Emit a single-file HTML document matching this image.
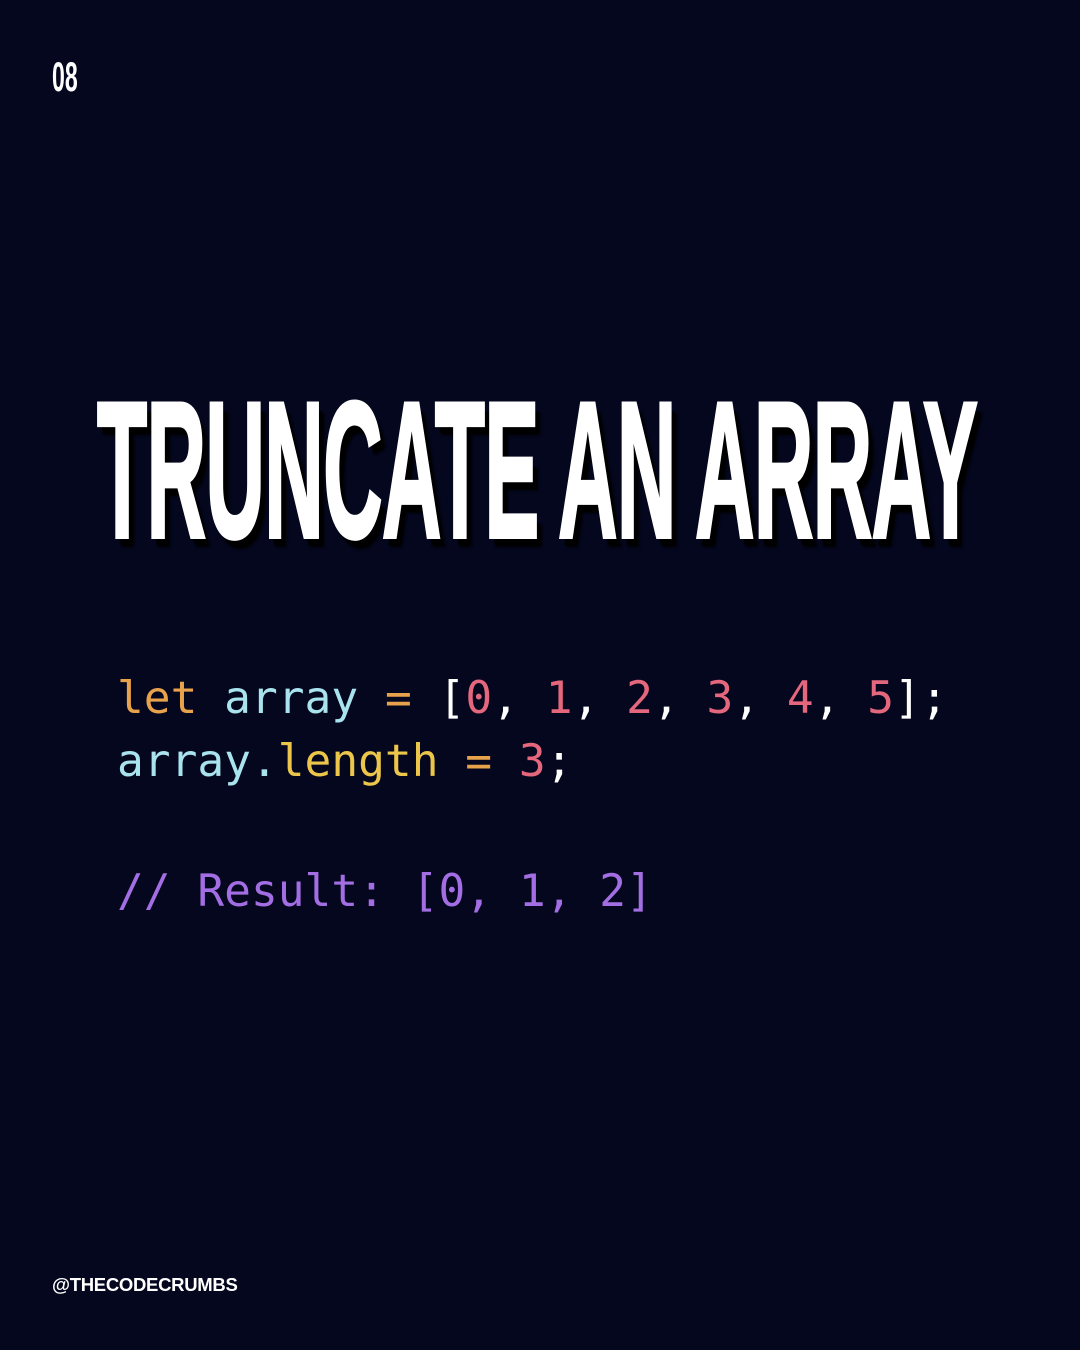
<!DOCTYPE html>
<html><head><style>
html,body{margin:0;padding:0}
body{width:1080px;height:1350px;background:#04071d;position:relative;overflow:hidden;font-family:"Liberation Sans",sans-serif}
.num{position:absolute;left:52px;top:56px;font-weight:bold;font-size:42px;color:#fff;transform:scaleX(0.55);transform-origin:left top;line-height:1}
.title{position:absolute;left:97px;top:374px;font-weight:bold;font-size:194px;color:#fff;white-space:nowrap;line-height:1;transform:scaleX(0.423);transform-origin:left top;text-shadow:10px 8px 0 #000,14px 10px 4px #000;letter-spacing:-1px;-webkit-text-stroke:4px #fff}
.code{position:absolute;left:117px;font-family:"DejaVu Sans Mono","Liberation Mono",monospace;font-size:44.5px;white-space:pre;line-height:1}
.k{color:#e8a24c}.v{color:#a9e4ee}.w{color:#ffffff}.n{color:#e5677e}.y{color:#ecc64a}.c{color:#a36ee3}.o{color:#e8a24c}
.handle{position:absolute;left:52px;top:1274px;font-weight:bold;font-size:18.5px;color:#fff;letter-spacing:-0.3px}
</style></head><body>
<div class="num">08</div>
<div class="title">TRUNCATE AN ARRAY</div>
<div class="code" style="top:677px"><span class="k">let</span> <span class="v">array</span> <span class="o">=</span> <span class="w">[</span><span class="n">0</span><span class="w">, </span><span class="n">1</span><span class="w">, </span><span class="n">2</span><span class="w">, </span><span class="n">3</span><span class="w">, </span><span class="n">4</span><span class="w">, </span><span class="n">5</span><span class="w">];</span></div>
<div class="code" style="top:740px"><span class="v">array.</span><span class="y">length</span> <span class="o">=</span> <span class="n">3</span><span class="w">;</span></div>
<div class="code c" style="top:870px">// Result: [0, 1, 2]</div>
<div class="handle">@THECODECRUMBS</div>
</body></html>
